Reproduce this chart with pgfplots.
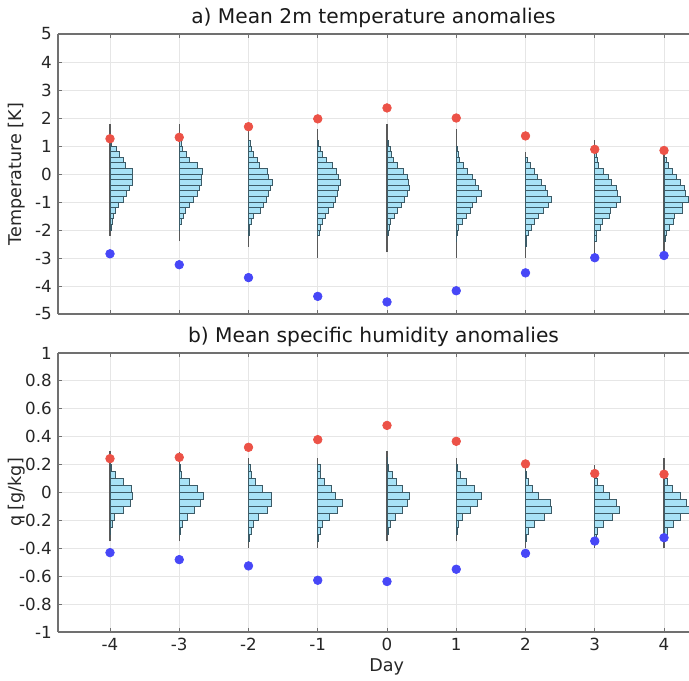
\documentclass[border=0pt]{standalone}
\usepackage{pgfplots}
\pgfplotsset{compat=1.18}
\usepackage{pgfplotstable}
\usepackage{fontspec}
\setmainfont{DejaVu Sans}
\definecolor{histfill}{HTML}{A8E2F6}
\definecolor{histedge}{HTML}{3C5B67}
\definecolor{reddot}{HTML}{EC5247}
\definecolor{bluedot}{HTML}{4747F7}
\definecolor{gridc}{HTML}{E6E6E6}
\definecolor{axc}{HTML}{707070}

% ---------- panel a histograms (y = lower bin edge, w = bar length) ----------
\pgfplotstableread{
y w
-2.0 3
-1.8 6
-1.6 10
-1.4 16
-1.2 26
-1.0 40
-0.8 48
-0.6 58
-0.4 66
-0.2 68
0.0 68
0.2 46
0.4 40
0.6 28
0.8 18
1.0 4
1.2 2
1.4 0
}\HAa
\pgfplotstableread{
y w
-2.0 2
-1.8 6
-1.6 12
-1.4 20
-1.2 30
-1.0 42
-0.8 56
-0.6 62
-0.4 68
-0.2 68
0.0 70
0.2 54
0.4 30
0.6 22
0.8 10
1.0 6
1.2 0
}\HAb
\pgfplotstableread{
y w
-2.2 2
-2.0 4
-1.8 8
-1.6 16
-1.4 36
-1.2 44
-1.0 55
-0.8 60
-0.6 66
-0.4 72
-0.2 60
0.0 56
0.2 34
0.4 28
0.6 14
0.8 10
1.0 6
1.2 0
}\HAc
\pgfplotstableread{
y w
-2.2 4
-2.0 7
-1.8 13
-1.6 23
-1.4 33
-1.2 47
-1.0 53
-0.8 59
-0.6 61
-0.4 69
-0.2 63
0.0 55
0.2 45
0.4 27
0.6 15
0.8 9
1.0 2
1.2 0
}\HAd
\pgfplotstableread{
y w
-2.2 3
-2.0 6
-1.8 10
-1.6 22
-1.4 32
-1.2 44
-1.0 52
-0.8 60
-0.6 68
-0.4 64
-0.2 62
0.0 50
0.2 32
0.4 19
0.6 14
0.8 10
1.0 4
1.2 0
}\HAe
\pgfplotstableread{
y w
-2.4 2
-2.2 4
-2.0 8
-1.8 18
-1.6 30
-1.4 44
-1.2 48
-1.0 60
-0.8 76
-0.6 68
-0.4 58
-0.2 50
0.0 34
0.2 22
0.4 10
0.6 8
0.8 4
1.0 0
}\HAf
\pgfplotstableread{
y w
-2.6 2
-2.4 4
-2.2 8
-2.0 18
-1.8 28
-1.6 38
-1.4 54
-1.2 68
-1.0 78
-0.8 66
-0.6 60
-0.4 48
-0.2 36
0.0 26
0.2 14
0.4 6
0.6 0
}\HAg
\pgfplotstableread{
y w
-2.4 4
-2.2 6
-2.0 18
-1.8 24
-1.6 44
-1.4 46
-1.2 64
-1.0 78
-0.8 68
-0.6 66
-0.4 50
-0.2 40
0.0 26
0.2 12
0.4 8
0.6 4
0.8 0
}\HAh
\pgfplotstableread{
y w
-2.4 4
-2.2 6
-2.0 16
-1.8 28
-1.6 32
-1.4 54
-1.2 56
-1.0 74
-0.8 64
-0.6 60
-0.4 48
-0.2 38
0.0 26
0.2 14
0.4 8
0.6 0
}\HAi

% ---------- panel b histograms ----------
\pgfplotstableread{
y w
-0.30 2
-0.25 6
-0.20 14
-0.15 40
-0.10 60
-0.05 68
0.00 64
0.05 40
0.10 16
0.15 5
0.20 2
0.25 0
}\HBa
\pgfplotstableread{
y w
-0.30 4
-0.25 10
-0.20 24
-0.15 46
-0.10 64
-0.05 72
0.00 54
0.05 30
0.10 8
0.15 4
0.20 0
}\HBb
\pgfplotstableread{
y w
-0.35 4
-0.30 8
-0.25 14
-0.20 30
-0.15 58
-0.10 68
-0.05 68
0.00 42
0.05 22
0.10 8
0.15 5
0.20 0
}\HBc
\pgfplotstableread{
y w
-0.35 3
-0.30 7
-0.25 15
-0.20 35
-0.15 59
-0.10 73
-0.05 53
0.00 41
0.05 21
0.10 9
0.15 7
0.20 0
}\HBd
\pgfplotstableread{
y w
-0.30 5
-0.25 11
-0.20 25
-0.15 47
-0.10 61
-0.05 67
0.00 47
0.05 29
0.10 15
0.15 5
0.20 2
0.25 0
}\HBe
\pgfplotstableread{
y w
-0.30 3
-0.25 7
-0.20 19
-0.15 43
-0.10 63
-0.05 75
0.00 55
0.05 31
0.10 13
0.15 3
0.20 0
}\HBf
\pgfplotstableread{
y w
-0.35 4
-0.30 8
-0.25 26
-0.20 56
-0.15 78
-0.10 74
-0.05 40
0.00 22
0.05 8
0.10 4
0.15 0
}\HBg
\pgfplotstableread{
y w
-0.35 4
-0.30 8
-0.25 26
-0.20 52
-0.15 74
-0.10 66
-0.05 44
0.00 26
0.05 8
0.10 4
0.15 0
}\HBh
\pgfplotstableread{
y w
-0.35 4
-0.30 10
-0.25 28
-0.20 48
-0.15 76
-0.10 68
-0.05 50
0.00 24
0.05 10
0.10 4
0.15 0
}\HBi

\pgfplotsset{
  panelA/.style={scale only axis, width=12.62cm, height=5.6cm,
    at={(1.16cm,-6.28cm)}, anchor=south west, ymin=-5, ymax=5},
  panelB/.style={scale only axis, width=12.62cm, height=5.58cm,
    at={(1.16cm,-12.64cm)}, anchor=south west, ymin=-1, ymax=1},
  frame/.style={xmin=-4.7509, xmax=4.361, axis y line*=left,
    axis line style={axc, line width=0.6pt},
    tick style={axc, line width=0.5pt}, major tick length=2.2pt,
    tick align=inside, grid=major, grid style={gridc, line width=0.5pt},
    xtick={-4,-3,-2,-1,0,1,2,3,4},
    ticklabel style={font=\fontsize{9.5}{11}\selectfont, text=black!85},
    label style={font=\fontsize{10}{12}\selectfont, text=black!85},
    title style={font=\fontsize{11.5}{13}\selectfont, text=black!90, yshift=-0.2cm},
    y label style={at={(axis description cs:-0.065,0.5)}, anchor=center}},
}

% one overlay axis per histogram; bars start at x=0, which is placed on day #2
\newcommand{\hist}[5]{%
  \pgfmathsetmacro\xa{-156-207.75*#2}%
  \pgfmathsetmacro\xb{1737-207.75*#2}%
  \begin{axis}[#1, hide axis, xmin=\xa, xmax=\xb]
    \addplot[black!65, line width=0.6pt] coordinates {(0,#4) (0,#5)};
    \addplot[xbar interval, fill=histfill, draw=histedge, line width=0.5pt]
      table[x=w, y=y] {#3};
  \end{axis}}

\begin{document}
\begin{tikzpicture}
\useasboundingbox (0,0) rectangle (13.78cm,-13.6cm);

% ================= panel a =================
\begin{axis}[panelA, frame,
  ytick={-5,-4,-3,-2,-1,0,1,2,3,4,5},
  yticklabels={-5,-4,-3,-2,-1,0,1,2,3,4,5},
  xticklabels={},
  ylabel={Temperature [K]},
  title={a) Mean 2m temperature anomalies}]
\end{axis}
\hist{panelA}{0}{\HAa}{-2.2}{1.8}
\hist{panelA}{1}{\HAb}{-2.4}{1.8}
\hist{panelA}{2}{\HAc}{-2.6}{1.75}
\hist{panelA}{3}{\HAd}{-3.0}{1.6}
\hist{panelA}{4}{\HAe}{-2.8}{1.8}
\hist{panelA}{5}{\HAf}{-3.0}{1.6}
\hist{panelA}{6}{\HAg}{-3.0}{0.8}
\hist{panelA}{7}{\HAh}{-2.9}{1.2}
\hist{panelA}{8}{\HAi}{-2.9}{0.85}
\begin{axis}[panelA, hide axis, xmin=-4.7509, xmax=4.361]
  \addplot[only marks, mark=*, mark size=2.45pt, mark options={fill=reddot, draw=reddot}]
    coordinates {(-4,1.26) (-3,1.31) (-2,1.69) (-1,1.97) (0,2.36) (1,2.0) (2,1.36) (3,0.88) (4,0.84)};
  \addplot[only marks, mark=*, mark size=2.45pt, mark options={fill=bluedot, draw=bluedot}]
    coordinates {(-4,-2.85) (-3,-3.24) (-2,-3.70) (-1,-4.37) (0,-4.57) (1,-4.17) (2,-3.53) (3,-2.99) (4,-2.91)};
\end{axis}

% ================= panel b =================
\begin{axis}[panelB, frame,
  ytick={-1,-0.8,-0.6,-0.4,-0.2,0,0.2,0.4,0.6,0.8,1},
  yticklabels={-1,-0.8,-0.6,-0.4,-0.2,0,0.2,0.4,0.6,0.8,1},
  xticklabels={-4,-3,-2,-1,0,1,2,3,4},
  xlabel={Day},
  x label style={at={(axis description cs:0.521,0)}, anchor=center, yshift=-0.7cm},
  ylabel={q [g/kg]},
  title={b) Mean specific humidity anomalies}]
\end{axis}
\hist{panelB}{0}{\HBa}{-0.35}{0.30}
\hist{panelB}{1}{\HBb}{-0.35}{0.29}
\hist{panelB}{2}{\HBc}{-0.40}{0.25}
\hist{panelB}{3}{\HBd}{-0.40}{0.25}
\hist{panelB}{4}{\HBe}{-0.35}{0.30}
\hist{panelB}{5}{\HBf}{-0.35}{0.25}
\hist{panelB}{6}{\HBg}{-0.40}{0.20}
\hist{panelB}{7}{\HBh}{-0.40}{0.20}
\hist{panelB}{8}{\HBi}{-0.40}{0.25}
\begin{axis}[panelB, hide axis, xmin=-4.7509, xmax=4.361]
  \addplot[only marks, mark=*, mark size=2.45pt, mark options={fill=reddot, draw=reddot}]
    coordinates {(-4,0.243) (-3,0.252) (-2,0.324) (-1,0.379) (0,0.481) (1,0.367) (2,0.205) (3,0.136) (4,0.131)};
  \addplot[only marks, mark=*, mark size=2.45pt, mark options={fill=bluedot, draw=bluedot}]
    coordinates {(-4,-0.431) (-3,-0.481) (-2,-0.526) (-1,-0.629) (0,-0.638) (1,-0.55) (2,-0.436) (3,-0.348) (4,-0.324)};
\end{axis}
\end{tikzpicture}
\end{document}
